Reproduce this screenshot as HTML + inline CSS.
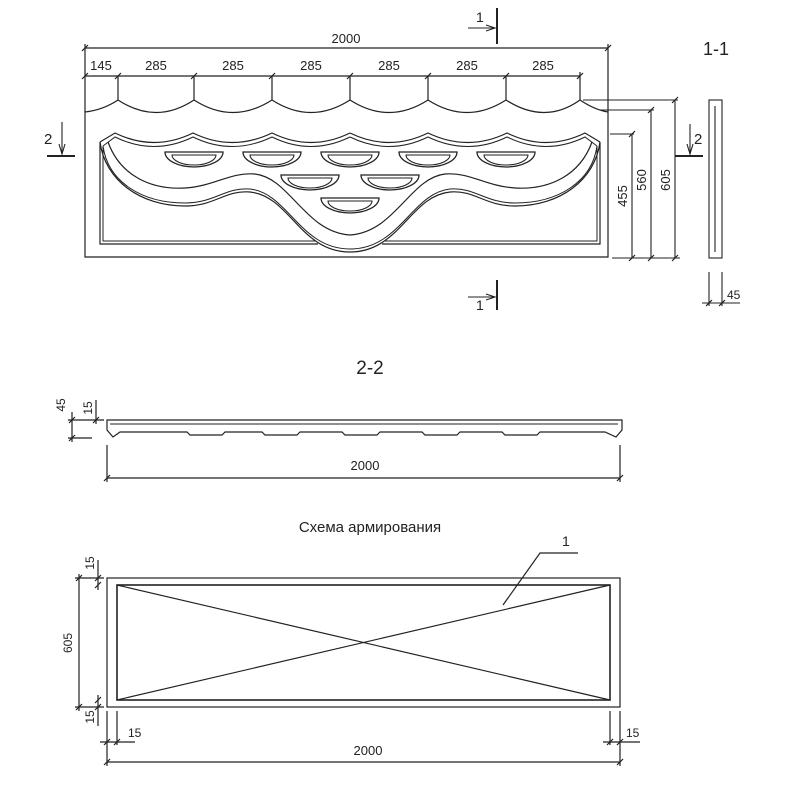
<!DOCTYPE html>
<html><head><meta charset="utf-8"><style>
html,body{margin:0;padding:0;background:#fff}
svg{display:block}
text{font-family:"Liberation Sans Narrow","Liberation Sans",sans-serif;fill:#222}
</style></head><body>
<svg width="800" height="800" viewBox="0 0 800 800" xmlns="http://www.w3.org/2000/svg">
<defs>
<g id="tk"><line x1="-3" y1="3" x2="3" y2="-3" stroke="#222" stroke-width="1.2"/></g>
<g id="moon">
<path d="M-29 0 L29 0 A29 15 0 0 1 -29 0 Z" fill="none" stroke="#222" stroke-width="1.3"/>
<path d="M-22 3 L22 3 A22 10 0 0 1 -22 3 Z" fill="none" stroke="#222" stroke-width="1.1"/>
</g>
<g id="half">
<path d="M100 142 L115 133 Q154 152 193 133 Q232 152 272 133 Q311 152 350 133" fill="none" stroke="#222" stroke-width="1.2"/>
<path d="M103 146 L115 137 Q154 156 193 137 Q232 156 272 137 Q311 156 350 137" fill="none" stroke="#222" stroke-width="1"/>
<path d="M108 142 C120 175 150 190 185 188 C215 186 230 172 255 174 C290 178 305 232 350 235" fill="none" stroke="#222" stroke-width="1.2"/>
<path d="M100 142 C105 180 140 206 185 206 C215 206 225 190 250 192 C290 196 300 252 350 252" fill="none" stroke="#222" stroke-width="1.2"/>
<path d="M103 146 C108 182 142 203 185 203 C215 203 225 187 250 189 C288 193 300 249 350 249" fill="none" stroke="#222" stroke-width="1"/>
<path d="M100 142 L100 244 L318 244" fill="none" stroke="#222" stroke-width="1.2"/>
<path d="M103 146 L103 241 L315 241" fill="none" stroke="#222" stroke-width="1"/>
</g>
</defs>
<g stroke="#222" fill="none" stroke-width="1.2">
<path d="M85 112 Q103 110 118 100 Q156 125 194 100 Q233 125 272 100 Q311 125 350 100 Q389 125 428 100 Q467 125 506 100 Q545 125 580 100 Q595 110 608 112 L608 257 L85 257 Z"/>
<line x1="85" y1="44" x2="85" y2="112"/>
<line x1="608" y1="44" x2="608" y2="112"/>
<line x1="85" y1="48" x2="608" y2="48"/>
<line x1="85" y1="76" x2="580" y2="76"/>
<line x1="118" y1="76" x2="118" y2="100"/><line x1="194" y1="76" x2="194" y2="100"/>
<line x1="272" y1="76" x2="272" y2="100"/><line x1="350" y1="76" x2="350" y2="100"/>
<line x1="428" y1="76" x2="428" y2="100"/><line x1="506" y1="76" x2="506" y2="100"/>
<line x1="580" y1="72" x2="580" y2="100"/>
</g>
<g>
<use href="#tk" x="85" y="48"/><use href="#tk" x="608" y="48"/>
<use href="#tk" x="85" y="76"/><use href="#tk" x="118" y="76"/><use href="#tk" x="194" y="76"/><use href="#tk" x="272" y="76"/><use href="#tk" x="350" y="76"/><use href="#tk" x="428" y="76"/><use href="#tk" x="506" y="76"/><use href="#tk" x="580" y="76"/>
</g>
<g font-size="13">
<text x="346" y="43" text-anchor="middle">2000</text>
<text x="101" y="70" text-anchor="middle">145</text>
<text x="156" y="70" text-anchor="middle">285</text>
<text x="233" y="70" text-anchor="middle">285</text>
<text x="311" y="70" text-anchor="middle">285</text>
<text x="389" y="70" text-anchor="middle">285</text>
<text x="467" y="70" text-anchor="middle">285</text>
<text x="543" y="70" text-anchor="middle">285</text>
</g>
<use href="#half"/>
<use href="#half" transform="translate(700 0) scale(-1 1)"/>
<use href="#moon" x="194" y="152"/><use href="#moon" x="272" y="152"/><use href="#moon" x="350" y="152"/><use href="#moon" x="428" y="152"/><use href="#moon" x="506" y="152"/>
<use href="#moon" x="310" y="175"/><use href="#moon" x="390" y="175"/>
<use href="#moon" x="350" y="198"/>
<g stroke="#222" fill="none" stroke-width="1.1">
<line x1="583" y1="100" x2="678" y2="100"/>
<line x1="600" y1="110" x2="654" y2="110"/>
<line x1="610" y1="134" x2="634" y2="134"/>
<line x1="632" y1="134" x2="632" y2="258"/>
<line x1="651" y1="110" x2="651" y2="258"/>
<line x1="675" y1="100" x2="675" y2="258"/>
<line x1="612" y1="258" x2="680" y2="258"/>
<line x1="62" y1="122" x2="62" y2="154"/><path d="M59 144 L62 154 L65 144"/>
<line x1="47" y1="156" x2="75" y2="156" stroke-width="2"/>
<line x1="675" y1="156" x2="703" y2="156" stroke-width="2"/>
<line x1="690" y1="124" x2="690" y2="154"/><path d="M687 144 L690 154 L693 144"/>
<line x1="497" y1="8" x2="497" y2="44" stroke-width="2"/>
<line x1="468" y1="28" x2="495" y2="28"/><path d="M486 25 L495 28 L486 31"/>
<line x1="497" y1="280" x2="497" y2="310" stroke-width="2"/>
<line x1="468" y1="297" x2="495" y2="297"/><path d="M486 294 L495 297 L486 300"/>
<rect x="709" y="100" width="13" height="158"/>
<line x1="715" y1="106" x2="715" y2="252"/>
<line x1="709" y1="272" x2="709" y2="306"/>
<line x1="722" y1="272" x2="722" y2="306"/>
<line x1="702" y1="303" x2="740" y2="303"/>
</g>
<g><use href="#tk" x="632" y="134"/><use href="#tk" x="651" y="110"/><use href="#tk" x="675" y="100"/>
<use href="#tk" x="632" y="258"/><use href="#tk" x="651" y="258"/><use href="#tk" x="675" y="258"/>
<use href="#tk" x="709" y="303"/><use href="#tk" x="722" y="303"/></g>
<g font-size="13">
<text transform="translate(627 196) rotate(-90)" text-anchor="middle">455</text>
<text transform="translate(646 180) rotate(-90)" text-anchor="middle">560</text>
<text transform="translate(670 180) rotate(-90)" text-anchor="middle">605</text>
<text x="727" y="299" font-size="12">45</text>
<text x="44" y="144" font-size="15">2</text>
<text x="694" y="144" font-size="15">2</text>
<text x="476" y="22" font-size="14">1</text>
<text x="476" y="310" font-size="14">1</text>
<text x="716" y="55" font-size="18" text-anchor="middle">1-1</text>
<text x="370" y="374" font-size="19" text-anchor="middle">2-2</text>
</g>
<g stroke="#222" fill="none" stroke-width="1.2">
<path d="M107 420 L622 420 L622 430 L616 437 L605 432 L540 432 L537 435 L505 435 L502 432 L460 432 L457 435 L425 435 L422 432 L380 432 L377 435 L345 435 L342 432 L300 432 L297 435 L265 435 L262 432 L225 432 L222 435 L190 435 L187 432 L120 432 L113 437 L107 430 Z"/>
<line x1="110" y1="424" x2="618" y2="424" stroke-width="1"/>
<line x1="68" y1="420" x2="104" y2="420"/>
<line x1="68" y1="438" x2="92" y2="438"/>
<line x1="72" y1="412" x2="72" y2="442"/>
<line x1="96" y1="400" x2="96" y2="424"/>
<line x1="107" y1="445" x2="107" y2="482"/>
<line x1="620" y1="445" x2="620" y2="482"/>
<line x1="107" y1="478" x2="620" y2="478"/>
</g>
<g><use href="#tk" x="72" y="420"/><use href="#tk" x="72" y="438"/><use href="#tk" x="96" y="420"/><use href="#tk" x="107" y="478"/><use href="#tk" x="620" y="478"/></g>
<g font-size="12">
<text transform="translate(65 405) rotate(-90)" text-anchor="middle">45</text>
<text transform="translate(92 408) rotate(-90)" text-anchor="middle">15</text>
<text x="365" y="470" font-size="13" text-anchor="middle">2000</text>
</g>
<text x="370" y="532" font-size="15" text-anchor="middle">Схема армирования</text>
<g stroke="#222" fill="none" stroke-width="1.2">
<rect x="107" y="578" width="513" height="129"/>
<rect x="117" y="585" width="493" height="115" stroke-width="1.6"/>
<line x1="117" y1="585" x2="610" y2="700"/>
<line x1="117" y1="700" x2="610" y2="585"/>
<path d="M503 605 L540 553 L578 553"/>
<line x1="79" y1="574" x2="79" y2="711"/>
<line x1="75" y1="578" x2="104" y2="578"/>
<line x1="75" y1="707" x2="104" y2="707"/>
<line x1="98" y1="560" x2="98" y2="590"/>
<line x1="98" y1="695" x2="98" y2="726"/>
<line x1="107" y1="711" x2="107" y2="766"/>
<line x1="117" y1="711" x2="117" y2="745"/>
<line x1="620" y1="711" x2="620" y2="766"/>
<line x1="610" y1="711" x2="610" y2="745"/>
<line x1="100" y1="742" x2="135" y2="742"/>
<line x1="603" y1="742" x2="640" y2="742"/>
<line x1="107" y1="762" x2="620" y2="762"/>
</g>
<g><use href="#tk" x="79" y="578"/><use href="#tk" x="79" y="707"/><use href="#tk" x="98" y="578"/><use href="#tk" x="98" y="585"/><use href="#tk" x="98" y="700"/><use href="#tk" x="98" y="707"/>
<use href="#tk" x="107" y="742"/><use href="#tk" x="117" y="742"/><use href="#tk" x="610" y="742"/><use href="#tk" x="620" y="742"/><use href="#tk" x="107" y="762"/><use href="#tk" x="620" y="762"/></g>
<g font-size="12">
<text x="562" y="546" font-size="14">1</text>
<text transform="translate(72 643) rotate(-90)" text-anchor="middle">605</text>
<text transform="translate(94 563) rotate(-90)" text-anchor="middle">15</text>
<text transform="translate(94 717) rotate(-90)" text-anchor="middle">15</text>
<text x="128" y="737">15</text>
<text x="626" y="737">15</text>
<text x="368" y="755" font-size="13" text-anchor="middle">2000</text>
</g>
</svg>
</body></html>
